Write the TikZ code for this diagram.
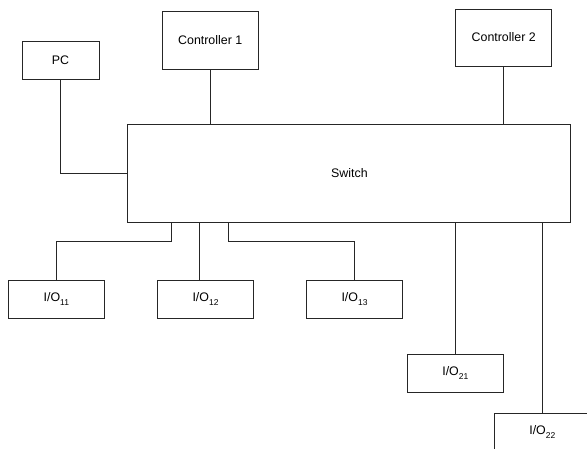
\documentclass[tikz,border=0pt]{standalone}
\usepackage{fontspec}
\setmainfont{Liberation Sans}
\usetikzlibrary{positioning, calc}

\newcommand{\iosub}[1]{\raisebox{-3.5pt}{\fontsize{8.5}{9}\selectfont #1}}

\begin{document}
\begin{tikzpicture}[x=1pt, y=-1pt, line width=0.9pt, draw=black!85,
                every node/.style={font=\fontsize{12.4}{14}\selectfont},
                box/.style={rectangle, draw=black!85, line width=0.9pt, inner sep=0pt, minimum width=96pt, minimum height=38pt},
                wire/.style={draw=black!85, line width=0.9pt}]
    \useasboundingbox (0,0) rectangle (587,449);
    \clip (0,0) rectangle (587,449);

    \node[box, minimum width=77pt] (pc) at (60.5,60) {PC};
    \node[box, minimum height=57.5pt] (ctrlA) at (210.2,40.5) {Controller 1};
    \node[box, minimum height=57pt] (ctrlB) at (503.7,37.5) {Controller 2};
    \node[box, minimum width=443pt, minimum height=98pt] (sw) at (349.4,173) {Switch};

    \node[box] (io11) at (56.3,299) {I/O\iosub{11}};
    \node[box] (io12) at (205.5,299) {I/O\iosub{12}};
    \node[box] (io13) at (354.5,299) {I/O\iosub{13}};
    \node[box] (io21) at (455.3,373) {I/O\iosub{21}};
    \node[box] (io22) at (542.3,432) {I/O\iosub{22}};

    % taps on the switch
    \coordinate (tapA) at ([xshift=43.6pt]sw.south west);
    \coordinate (tapB) at ([xshift=72.2pt]sw.south west);
    \coordinate (tapC) at ([xshift=101.2pt]sw.south west);

    \draw[wire] (pc.south) |- (sw.west);
    \draw[wire] (ctrlA.south) -- (ctrlA.south |- sw.north);
    \draw[wire] (ctrlB.south) -- (ctrlB.south |- sw.north);

    \draw[wire] (tapA) -- ++(0,19.5) -| (io11.north);
    \draw[wire] (tapB) -- (tapB |- io12.north);
    \draw[wire] (tapC) -- ++(0,19.5) -| (io13.north);
    \draw[wire] (io21.north |- sw.south) -- (io21.north);
    \draw[wire] (io22.north |- sw.south) -- (io22.north);
\end{tikzpicture}
\end{document}
